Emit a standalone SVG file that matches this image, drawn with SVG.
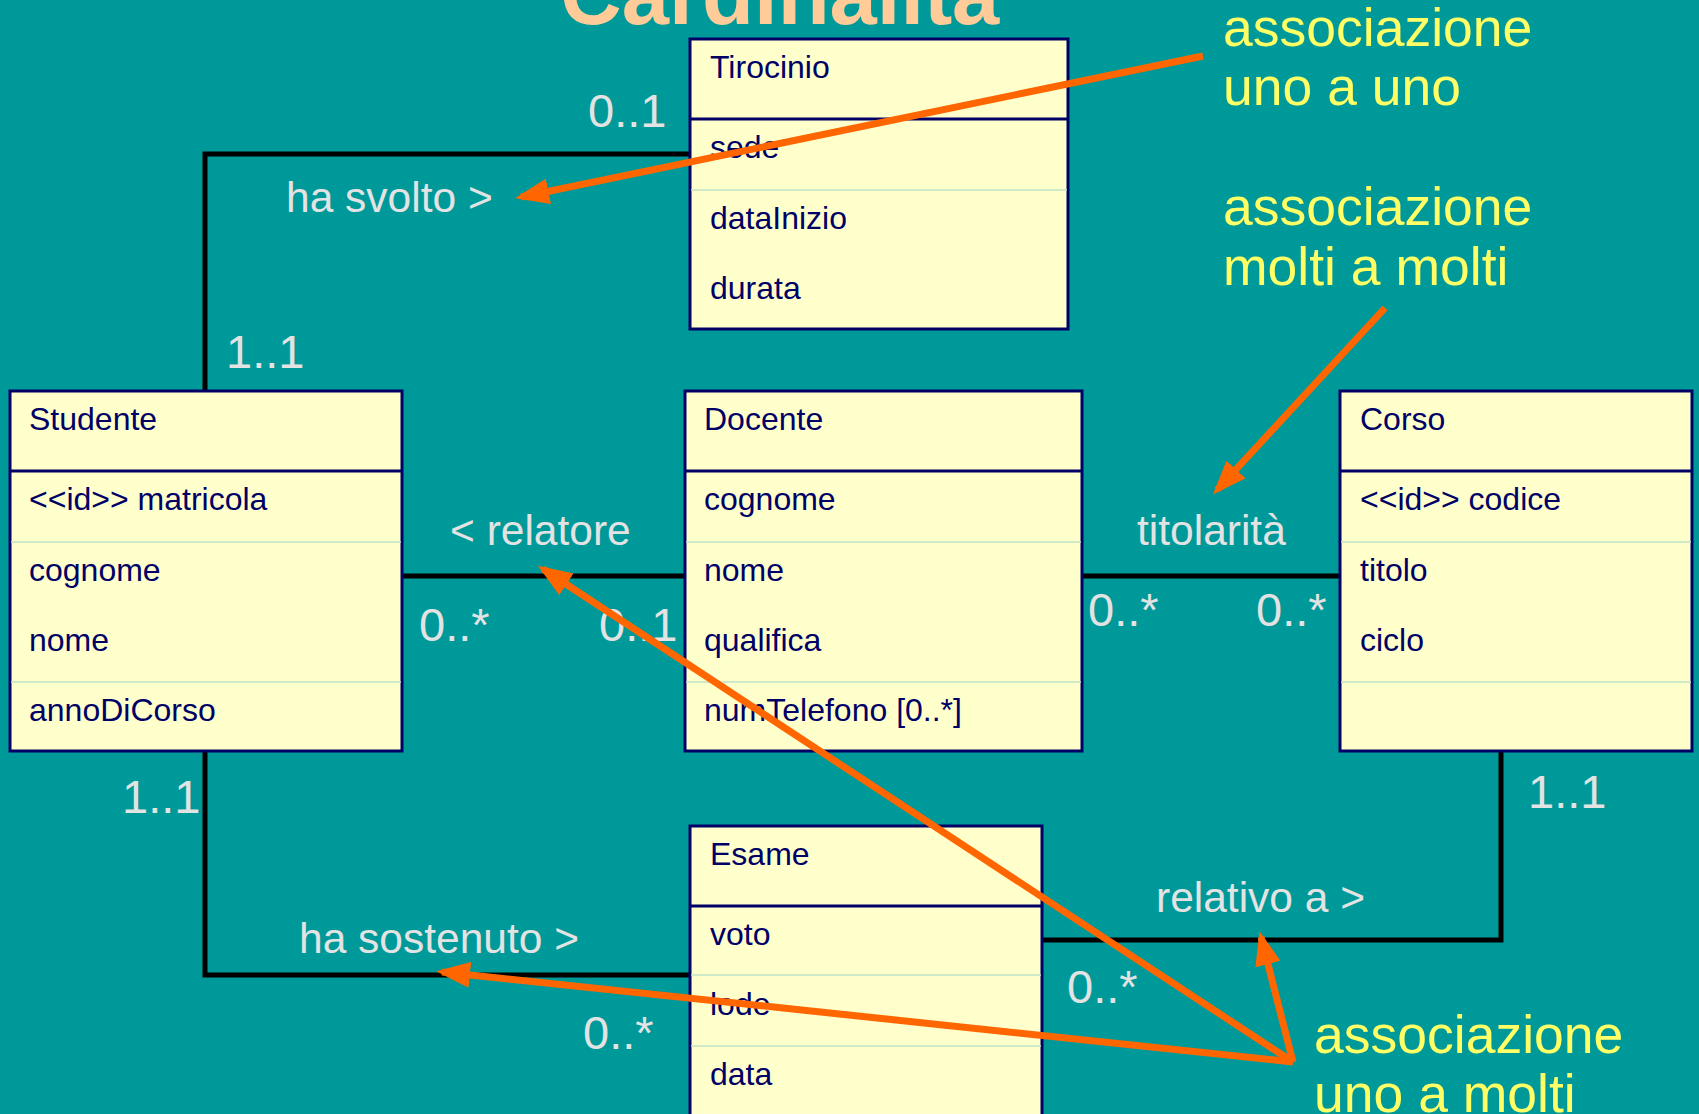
<svg xmlns="http://www.w3.org/2000/svg" width="1699" height="1114" viewBox="0 0 1699 1114">
<defs>
<style>
.box{fill:#FFFFCC;stroke:#000066;stroke-width:3}
.hdr{stroke:#000066;stroke-width:3}
.sep{stroke:#BFE3C9;stroke-width:1.5}
.t{font-family:"Liberation Sans",Arial,sans-serif;font-size:32px;fill:#000066}
.conn{fill:none;stroke:#000000;stroke-width:5}
.lbl{font-family:"Liberation Sans",Arial,sans-serif;font-size:42.5px;fill:#E3E3E3}
.mul{font-family:"Liberation Sans",Arial,sans-serif;font-size:47px;fill:#E3E3E3}
.note{font-family:"Liberation Sans",Arial,sans-serif;font-size:53.5px;fill:#FFFF66}
.arr{fill:none;stroke:#FF6600;stroke-width:7;marker-end:url(#ah)}
</style>
<marker id="ah" markerUnits="userSpaceOnUse" markerWidth="34" markerHeight="26" refX="28" refY="13" orient="auto">
<path d="M0,0 L34,13 L0,26 z" fill="#FF6600"/>
</marker>
</defs>
<rect width="1699" height="1114" fill="#009999"/>
<text x="780" y="24" text-anchor="middle" font-family="Liberation Sans,Arial,sans-serif" font-weight="bold" font-size="85" fill="#FFCC99">Cardinalità</text>

<g id="connectors">
<path class="conn" d="M205,391 V154 H690"/>
<path class="conn" d="M402,576 H685"/>
<path class="conn" d="M1082,576 H1340"/>
<path class="conn" d="M205,751 V975 H690"/>
<path class="conn" d="M1501,751 V940 H1042"/>
<text class="mul" x="588" y="127">0..1</text>
<text class="lbl" x="286" y="212">ha svolto &gt;</text>
<text class="mul" x="226" y="368">1..1</text>
<text class="lbl" x="450" y="545">&lt; relatore</text>
<text class="mul" x="419" y="641">0..*</text>
<text class="mul" x="599" y="641">0..1</text>
<text class="lbl" x="1137" y="545">titolarità</text>
<text class="mul" x="1088" y="626">0..*</text>
<text class="mul" x="1256" y="626">0..*</text>
<text class="mul" x="122" y="813">1..1</text>
<text class="lbl" x="299" y="953">ha sostenuto &gt;</text>
<text class="mul" x="583" y="1049">0..*</text>
<text class="mul" x="1528" y="808">1..1</text>
<text class="lbl" x="1156" y="912">relativo a &gt;</text>
<text class="mul" x="1067" y="1003">0..*</text>
</g>

<g id="Tirocinio">
<rect class="box" x="690" y="39" width="378" height="290"/>
<line class="hdr" x1="690" y1="119" x2="1068" y2="119"/>
<line class="sep" x1="691" y1="190" x2="1067" y2="190"/>
<text class="t" x="710" y="78">Tirocinio</text>
<text class="t" x="710" y="158">sede</text>
<text class="t" x="710" y="229">dataInizio</text>
<text class="t" x="710" y="299">durata</text>
</g>

<g id="Studente">
<rect class="box" x="10" y="391" width="392" height="360"/>
<line class="hdr" x1="10" y1="471" x2="402" y2="471"/>
<line class="sep" x1="11" y1="542" x2="401" y2="542"/>
<line class="sep" x1="11" y1="682" x2="401" y2="682"/>
<text class="t" x="29" y="430">Studente</text>
<text class="t" x="29" y="510">&lt;&lt;id&gt;&gt; matricola</text>
<text class="t" x="29" y="581">cognome</text>
<text class="t" x="29" y="651">nome</text>
<text class="t" x="29" y="721">annoDiCorso</text>
</g>

<g id="Docente">
<rect class="box" x="685" y="391" width="397" height="360"/>
<line class="hdr" x1="685" y1="471" x2="1082" y2="471"/>
<line class="sep" x1="686" y1="542" x2="1081" y2="542"/>
<line class="sep" x1="686" y1="682" x2="1081" y2="682"/>
<text class="t" x="704" y="430">Docente</text>
<text class="t" x="704" y="510">cognome</text>
<text class="t" x="704" y="581">nome</text>
<text class="t" x="704" y="651">qualifica</text>
<text class="t" x="704" y="721">numTelefono [0..*]</text>
</g>

<g id="Corso">
<rect class="box" x="1340" y="391" width="352" height="360"/>
<line class="hdr" x1="1340" y1="471" x2="1692" y2="471"/>
<line class="sep" x1="1341" y1="542" x2="1691" y2="542"/>
<line class="sep" x1="1341" y1="682" x2="1691" y2="682"/>
<text class="t" x="1360" y="430">Corso</text>
<text class="t" x="1360" y="510">&lt;&lt;id&gt;&gt; codice</text>
<text class="t" x="1360" y="581">titolo</text>
<text class="t" x="1360" y="651">ciclo</text>
</g>

<g id="Esame">
<rect class="box" x="690" y="826" width="352" height="300"/>
<line class="hdr" x1="690" y1="906" x2="1042" y2="906"/>
<line class="sep" x1="691" y1="975" x2="1041" y2="975"/>
<line class="sep" x1="691" y1="1046" x2="1041" y2="1046"/>
<text class="t" x="710" y="865">Esame</text>
<text class="t" x="710" y="945">voto</text>
<text class="t" x="710" y="1015">lode</text>
<text class="t" x="710" y="1085">data</text>
</g>

<g id="notes">
<text class="note" x="1223" y="46">associazione</text>
<text class="note" x="1223" y="105">uno a uno</text>
<text class="note" x="1223" y="225">associazione</text>
<text class="note" x="1223" y="285">molti a molti</text>
<text class="note" x="1314" y="1053">associazione</text>
<text class="note" x="1314" y="1112">uno a molti</text>
</g>

<g id="annotation-arrows">
<line class="arr" x1="1203" y1="56" x2="521" y2="197"/>
<line class="arr" x1="1385" y1="308" x2="1217" y2="490"/>
<line class="arr" x1="1293" y1="1062" x2="543" y2="569"/>
<line class="arr" x1="1293" y1="1062" x2="442" y2="972"/>
<line class="arr" x1="1293" y1="1062" x2="1261" y2="937"/>
</g>
</svg>
